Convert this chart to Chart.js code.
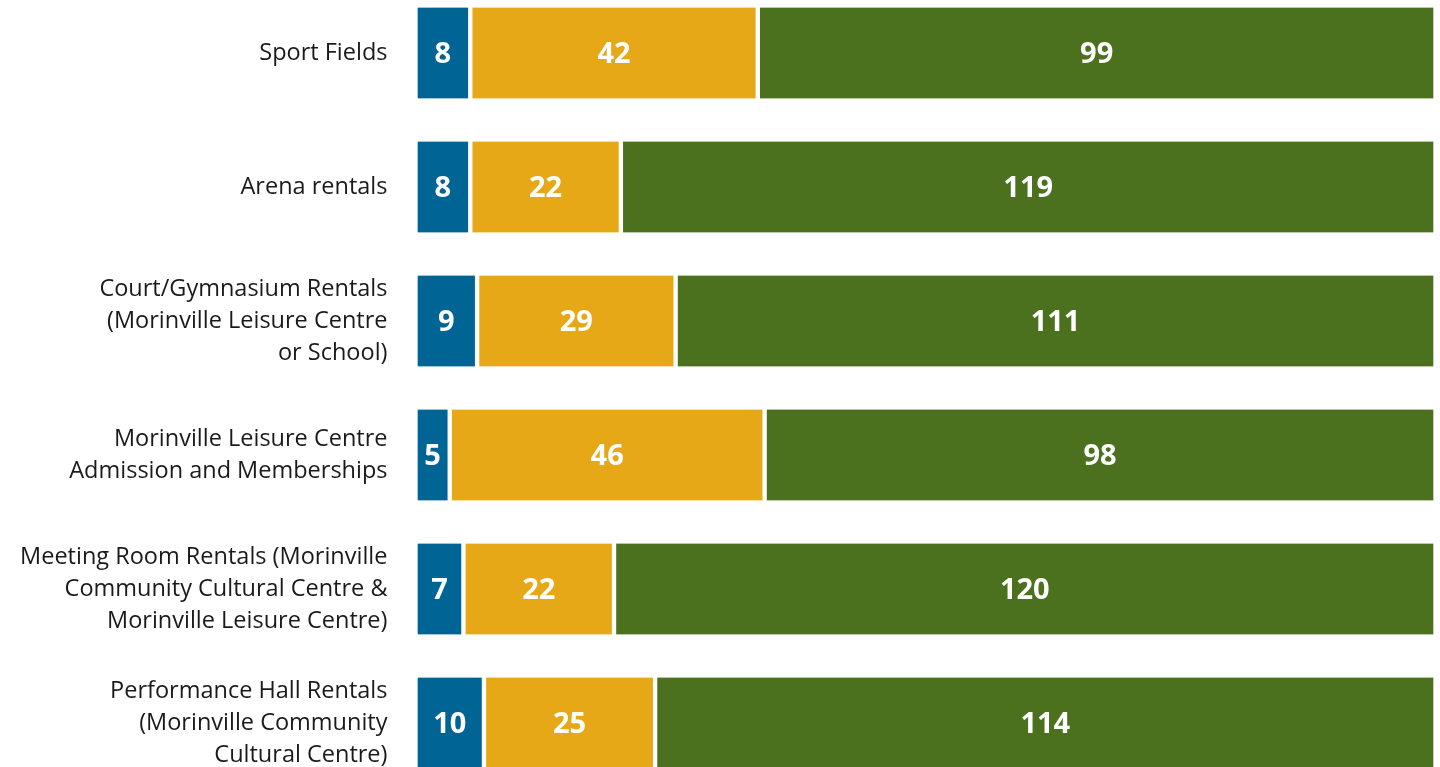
<!DOCTYPE html>
<html>
<head>
<meta charset="utf-8">
<script src="https://cdn.jsdelivr.net/npm/chart.js@4"></script>
<style>
  html, body { margin: 0; padding: 0; background: #fff; overflow: hidden; }
  #wrap { position: absolute; left: 0; top: -14.5px; width: 1440px; height: 804px; }
</style>
</head>
<body>
<div id="wrap"><canvas id="grafico"></canvas></div>
<script>
const categorias = [
    ['Sport Fields'],
    ['Arena rentals'],
    ['Court/Gymnasium Rentals', '(Morinville Leisure Centre', 'or School)'],
    ['Morinville Leisure Centre', 'Admission and Memberships'],
    ['Meeting Room Rentals (Morinville', 'Community Cultural Centre &', 'Morinville Leisure Centre)'],
    ['Performance Hall Rentals', '(Morinville Community', 'Cultural Centre)']
]
const serieAzul = [8, 8, 9, 5, 7, 10]
const serieAmarela = [42, 22, 29, 46, 22, 25]
const serieVerde = [99, 119, 111, 98, 120, 114]

const cores = ['#006595', '#E6A817', '#4B711F']

// escreve o valor no meio de cada barra
const rotulos = {
    id: 'rotulos',
    afterDatasetsDraw(chart) {
        const ctx = chart.ctx
        ctx.save()
        ctx.fillStyle = '#ffffff'
        ctx.font = 'bold 29px "Open Sans"'
        ctx.textAlign = 'center'
        ctx.textBaseline = 'middle'
        chart.data.datasets.forEach((ds, i) => {
            chart.getDatasetMeta(i).data.forEach((bar, j) => {
                const cx = (bar.x + bar.base) / 2
                ctx.fillText(ds.data[j], cx, bar.y + 2)
            })
        })
        ctx.restore()
    }
}

const borda = { left: 2.5, right: 2.5, top: 0, bottom: 0 }

new Chart(document.getElementById('grafico'), {
    type: 'bar',
    data: {
        labels: categorias,
        datasets: [
            { data: serieAzul, backgroundColor: cores[0] },
            { data: serieAmarela, backgroundColor: cores[1] },
            { data: serieVerde, backgroundColor: cores[2] }
        ].map(d => Object.assign(d, {
            borderColor: '#ffffff',
            borderWidth: borda,
            borderSkipped: false,
            barThickness: 91
        }))
    },
    options: {
        indexAxis: 'y',
        responsive: true,
        maintainAspectRatio: false,
        animation: false,
        layout: { padding: { left: 0, right: 4.5, top: 0, bottom: 0 } },
        scales: {
            x: { stacked: true, display: false, min: 0, max: 149 },
            y: {
                stacked: true,
                grid: { display: false, drawTicks: false },
                border: { display: false },
                ticks: {
                    color: '#1a1a1a',
                    padding: 28,
                    font: { family: 'Open Sans', size: 23.5, lineHeight: 1.36 }
                },
                afterFit: (scale) => {
                    scale.width = 415.5
                    scale.paddingTop = 0
                    scale.paddingBottom = 0
                }
            }
        },
        plugins: {
            legend: { display: false },
            tooltip: { enabled: false }
        }
    },
    plugins: [rotulos]
})
</script>
</body>
</html>
